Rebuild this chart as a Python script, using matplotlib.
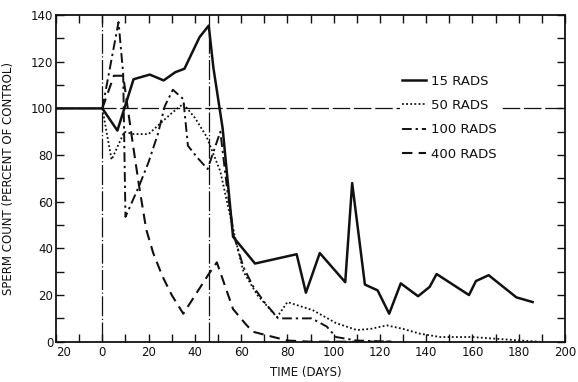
import matplotlib
matplotlib.use("Agg")
import matplotlib.pyplot as plt
from matplotlib.ticker import MultipleLocator, FixedLocator

# ---- data ----
days_15 = [-20, 0, 6.5, 13.5, 20.5, 26.5, 31.5, 35.5, 42, 46, 48, 52, 56.5, 66, 84, 88,
           94, 105, 108, 113.5, 119, 124, 129, 136.5, 141.5, 144.5, 158.5, 161.5, 167,
           179, 186]
vals_15 = [100, 100, 90.5, 112.5, 114.5, 112, 115.5, 117, 130.5, 135.5, 117.5, 91.5, 45,
           33.5, 37.5, 21, 38, 25.5, 68, 24.5, 22, 12, 25, 19.5, 23.5, 29, 20, 26, 28.5,
           19, 17]

days_50 = [0, 4, 9.5, 13.5, 20, 25, 30, 35, 40, 45, 51, 55, 58, 61, 67, 75.5, 80, 91,
           101, 110, 116, 123, 130, 137, 146, 160, 178, 189]
vals_50 = [100, 78, 90, 89, 89, 93.5, 98, 102, 96, 88, 73, 55, 42, 30, 20, 10.5, 17,
           13.5, 8, 5, 5.5, 7, 5.5, 3.5, 2, 2, 0.7, 0]

days_100 = [0, 7, 9, 10, 16, 20, 24, 27, 30.5, 35, 37, 41, 45.5, 51, 54, 57, 61, 65, 70,
            76, 90.5, 97, 101, 110, 125]
vals_100 = [100, 137, 115, 53.5, 67, 77, 89, 101, 108, 104, 84, 79, 74, 90, 65, 45, 32,
            24, 17, 10, 10, 6.5, 2, 0.5, 0]

days_400 = [0, 5, 9, 13, 16, 19, 22, 26, 30, 35, 46, 49.5, 56.5, 62, 65, 72, 80, 90, 125]
vals_400 = [100, 114, 114, 86, 66, 48, 38, 28, 20, 12, 29, 34, 14, 7.5, 4.3, 2.5, 0.5,
            0, 0]

series_labels = ["15 RADS", "50 RADS", "100 RADS", "400 RADS"]
x_tick_values = [-20, 0, 20, 40, 60, 80, 100, 120, 140, 160, 180, 200]
x_tick_labels = ["20", "0", "20", "40", "60", "80", "100", "120", "140", "160", "180", "200"]
y_tick_values = [0, 20, 40, 60, 80, 100, 120, 140]
control_level = 100
marker_days = [0, 46]

# ---- figure ----
fig = plt.figure(figsize=(5.78, 3.82), dpi=100)
ax = fig.add_axes([0.097, 0.1055, 0.8805, 0.855])

ink = "#111111"
ax.plot(days_15, vals_15, color=ink, lw=1.8, ls="-", label=series_labels[0], zorder=4)
ax.plot(days_50, vals_50, color=ink, lw=1.3, ls=(0, (1, 1.3)), label=series_labels[1], zorder=4)
ax.plot(days_100, vals_100, color=ink, lw=1.4, ls=(0, (5, 2, 1.2, 2)), label=series_labels[2], zorder=4)
ax.plot(days_400, vals_400, color=ink, lw=1.5, ls=(0, (5, 3)), label=series_labels[3], zorder=4)

ax.axhline(control_level, color=ink, lw=0.9, ls=(0, (14, 3)), zorder=1)
for d in marker_days:
    ax.axvline(d, color=ink, lw=0.9, ls=(0, (16, 2, 1, 2)), zorder=1)

ax.set_xlim(-20, 200)
ax.set_ylim(0, 140)
ax.xaxis.set_major_locator(FixedLocator(x_tick_values))
ax.set_xticklabels(x_tick_labels)
ax.xaxis.set_minor_locator(MultipleLocator(10))
ax.yaxis.set_major_locator(FixedLocator(y_tick_values))
ax.yaxis.set_minor_locator(MultipleLocator(10))

ax.tick_params(axis="both", which="both", direction="in", top=True, right=True,
               colors=ink, width=1.0)
ax.tick_params(axis="both", which="major", length=6, labelsize=8.5, pad=3)
ax.tick_params(axis="both", which="minor", length=6)
ax.tick_params(axis="y", which="both", right=True, labelright=False)
ax.tick_params(axis="y", which="major", pad=2)
ax.get_xticklabels()[0].set_horizontalalignment("left")
for s in ax.spines.values():
    s.set_linewidth(1.3)
    s.set_color(ink)

ax.set_ylabel("SPERM COUNT (PERCENT OF CONTROL)", fontsize=8.5, color=ink)
ax.set_xlabel("TIME (DAYS)", fontsize=8.5, color=ink)
ax.yaxis.set_label_coords(-0.08, 0.5)
ax.xaxis.set_label_coords(0.49, -0.075)

leg = ax.legend(loc="upper left", bbox_to_anchor=(0.675, 0.825), fontsize=9.5,
                frameon=True, fancybox=False, framealpha=1, edgecolor="none",
                facecolor="white", handlelength=1.8, handletextpad=0.4,
                labelspacing=0.85, borderpad=0.2, borderaxespad=0)
for t in leg.get_texts():
    t.set_color(ink)

fig.savefig("out.png", dpi=100)
